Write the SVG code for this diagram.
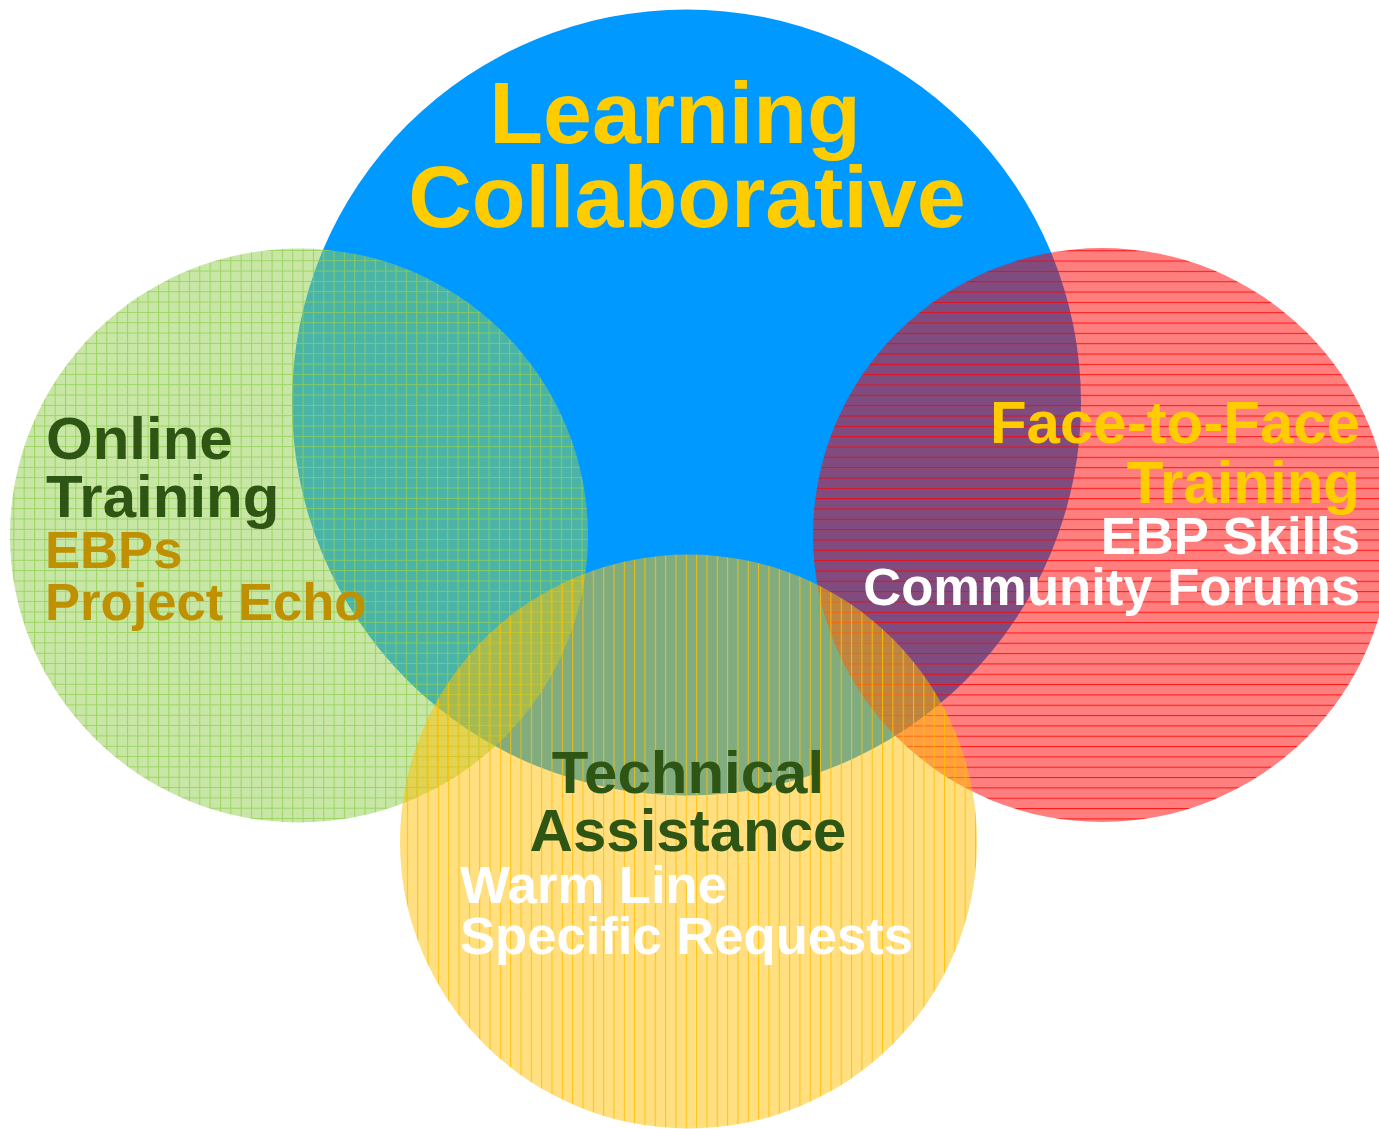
<svg xmlns="http://www.w3.org/2000/svg" width="1379" height="1129" viewBox="0 0 1379 1129">
<defs>
<style>
text{font-family:"Liberation Sans",Arial,sans-serif;font-weight:bold}
.t{font-size:60px;fill:#2e5514}
.y{fill:#ffcc00}
.w{fill:#ffffff}
.g{fill:#bf9000}
.s{font-size:52.6px}
</style>
<pattern id="pg" patternUnits="userSpaceOnUse" width="10.33" height="10.33" x="3" y="2">
<rect width="10.33" height="10.33" fill="#92d050" fill-opacity="0.5"/>
<path d="M0 0.5H10.33M0.5 0V10.33" stroke="#92d050" stroke-opacity="0.8" stroke-width="1.1" fill="none"/>
</pattern>
<pattern id="pr" patternUnits="userSpaceOnUse" width="10.33" height="10.33" x="0" y="2.3">
<rect width="10.33" height="10.33" fill="#ff0000" fill-opacity="0.5"/>
<path d="M0 0.5H10.33" stroke="#ff0000" stroke-opacity="0.8" stroke-width="1.1" fill="none"/>
</pattern>
<pattern id="py" patternUnits="userSpaceOnUse" width="10.33" height="10.33" x="4" y="0">
<rect width="10.33" height="10.33" fill="#ffc000" fill-opacity="0.5"/>
<path d="M0.5 0V10.33" stroke="#ffc000" stroke-opacity="0.85" stroke-width="1.1" fill="none"/>
</pattern>
</defs>
<rect width="1379" height="1129" fill="#ffffff"/>
<g id="learning-collaborative">
<ellipse cx="686.5" cy="402.5" rx="394.5" ry="393" fill="#0099ff"/>
</g>
<g id="online-training">
<ellipse cx="299" cy="535.5" rx="289" ry="287" fill="url(#pg)"/>
</g>
<g id="face-to-face-training">
<ellipse cx="1102" cy="535" rx="289" ry="287" fill="url(#pr)"/>
</g>
<g id="technical-assistance">
<ellipse cx="688.5" cy="841.5" rx="288.5" ry="287" fill="url(#py)"/>
</g>
<g id="connectors"></g>
<g id="labels">
<text class="y" x="675" y="143" text-anchor="middle" font-size="88">Learning</text>
<text class="y" x="687" y="227" text-anchor="middle" font-size="88">Collaborative</text>
<text class="t" x="46" y="459">Online</text>
<text class="t" x="46" y="517">Training</text>
<text class="g s" x="45" y="568">EBPs</text>
<text class="g s" x="45" y="620">Project Echo</text>
<text class="t y" x="1360" y="443" text-anchor="end">Face-to-Face</text>
<text class="t y" x="1360" y="503" text-anchor="end">Training</text>
<text class="w s" x="1360" y="554" text-anchor="end">EBP Skills</text>
<text class="w s" x="1360" y="605" text-anchor="end">Community Forums</text>
<text class="t" x="688" y="793" text-anchor="middle" font-size="61">Technical</text>
<text class="t" x="688" y="851" text-anchor="middle" font-size="61">Assistance</text>
<text class="w s" x="460" y="903">Warm Line</text>
<text class="w s" x="460" y="954">Specific Requests</text>
</g>
</svg>
